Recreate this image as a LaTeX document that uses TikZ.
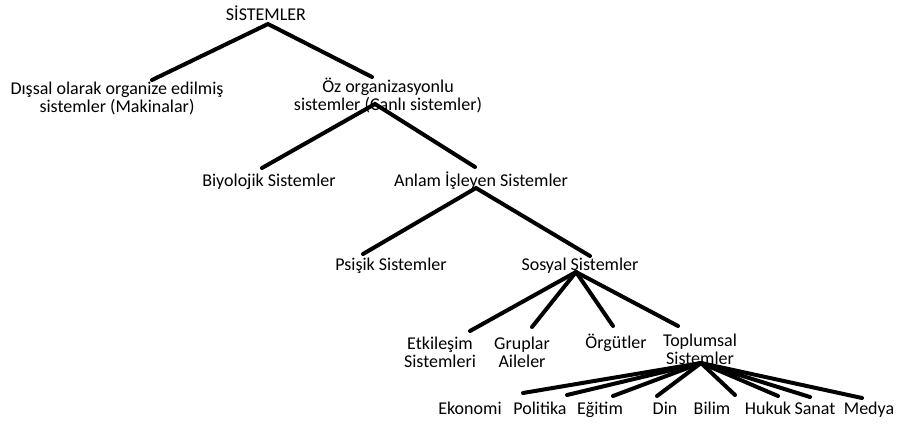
\documentclass[tikz,border=0pt]{standalone}
\usepackage{fontspec}
\setmainfont{Carlito}
\begin{document}
\begin{tikzpicture}[x=1pt,y=-1pt,
  lbl/.style={inner sep=0pt, font=\fontsize{18}{18}\selectfont, align=center},
  one/.style={lbl, anchor=base},
  br/.style={line width=4pt, line cap=round}]
\useasboundingbox[fill=white] (0,0) rectangle (909,423);
% labels
\node[one] (sis) at (266,20) {SİSTEMLER};
\node[lbl] (dis) at (117,98) {Dışsal olarak organize edilmiş\\sistemler (Makinalar)};
\node[lbl] (oz) at (388,96) {Öz organizasyonlu\\sistemler (Canlı sistemler)};
\node[one] (biy) at (269,186) {Biyolojik Sistemler};
\node[one] (anl) at (481,186) {Anlam İşleyen Sistemler};
\node[one] (psi) at (391,270) {Psişik Sistemler};
\node[one] (sos) at (580,270) {Sosyal Sistemler};
\node[lbl] (etk) at (440,352) {Etkileşim\\Sistemleri};
\node[lbl] (gru) at (522,352) {Gruplar\\Aileler};
\node[one] (org) at (616,348) {Örgütler};
\node[lbl] (top) at (700,349) {Toplumsal\\Sistemler};
\node[one] (eko) at (470,414) {Ekonomi};
\node[one] (pol) at (540,414) {Politika};
\node[one] (egi) at (600,414) {Eğitim};
\node[one] (din) at (665,414) {Din};
\node[one] (bil) at (712,414) {Bilim};
\node[one] (huk) at (768,414) {Hukuk};
\node[one] (san) at (815,414) {Sanat};
\node[one] (med) at (869,414) {Medya};
% connector points
\coordinate (sisA) at (268,24);
\coordinate (disT) at (152,80);
\coordinate (ozT) at (372,77);
\coordinate (ozA) at (375,104);
\coordinate (biyT) at (262,168);
\coordinate (anlT) at (475,167);
\coordinate (anlA) at (476,188);
\coordinate (psiT) at (363,254);
\coordinate (sosT) at (590,256);
\coordinate (sosA) at (576,272);
\coordinate (etkT) at (470,331);
\coordinate (gruT) at (532,327);
\coordinate (orgT) at (613,326);
\coordinate (topT) at (678,326);
\coordinate (topA) at (701,363);
\coordinate (ekoT) at (523,393);
\coordinate (polT) at (567,395);
\coordinate (egiT) at (613,396);
\coordinate (dinT) at (657,396);
\coordinate (bilT) at (735,395);
\coordinate (hukT) at (778,396);
\coordinate (sanT) at (810,397);
\coordinate (medT) at (862,398);
% connectors
\draw[br] (disT) -- (sisA) -- (ozT);
\draw[br] (biyT) -- (ozA) -- (anlT);
\draw[br] (psiT) -- (anlA) -- (sosT);
\draw[br] (sosA) -- (etkT);
\draw[br] (sosA) -- (gruT);
\draw[br] (sosA) -- (orgT);
\draw[br] (sosA) -- (topT);
\foreach \t in {ekoT,polT,egiT,dinT,bilT,hukT,sanT,medT}
  \draw[br] (topA) -- (\t);
\end{tikzpicture}
\end{document}
